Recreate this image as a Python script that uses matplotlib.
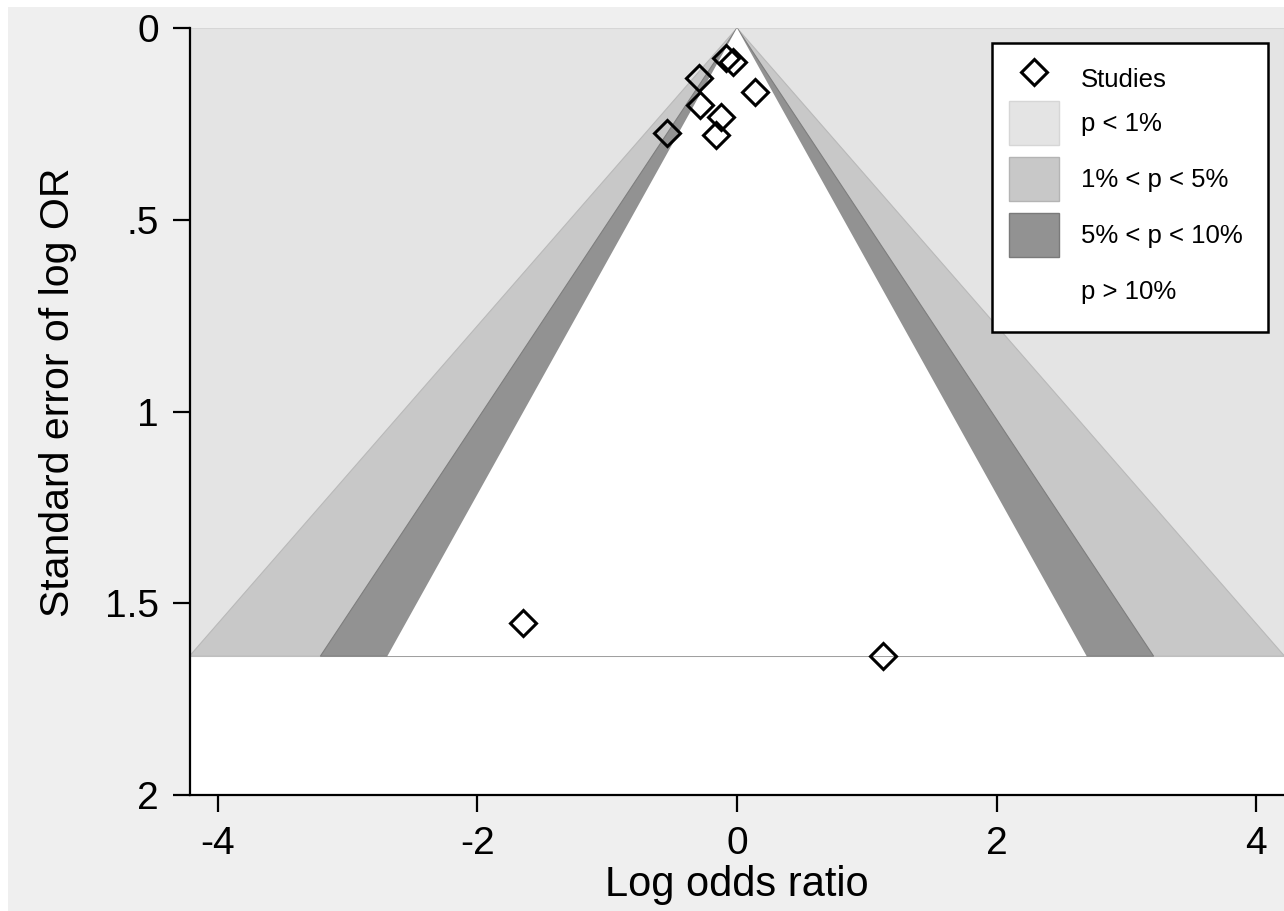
import numpy as np
import matplotlib
matplotlib.use("Agg")
import matplotlib.pyplot as plt
from matplotlib.patches import Patch, Rectangle
from matplotlib.lines import Line2D

plt.rcParams['font.family'] = ['Liberation Sans', 'DejaVu Sans']

# study estimates: log odds ratio and its standard error
log_or = np.array([-0.085, -0.03, -0.29, 0.14, -0.285, -0.12, -0.16, -0.54, -1.65, 1.125])
se = np.array([0.078, 0.089, 0.130, 0.167, 0.200, 0.232, 0.279, 0.274, 1.551, 1.638])

# significance contours (two-sided z for 1%, 5%, 10%)
z_levels = [2.576, 1.960, 1.645]
band_colors = ['#c8c8c8', '#929292', 'white']
band_edges = ['#b9b9b9', '#7e7e7e', '#808080']
outer_color = '#e4e4e4'

legend_labels = ['Studies', 'p < 1%', '1% < p < 5%', '5% < p < 10%', 'p > 10%']

W, H = 1284, 911
fig = plt.figure(figsize=(W / 100, H / 100), dpi=100, facecolor='white')
fig.add_artist(Rectangle((8 / W, -0.05), 1, 1.05 - 7 / H, transform=fig.transFigure,
                         facecolor='#efefef', edgecolor='none', zorder=-10))

ax = fig.add_axes([190 / W, 1 - 795 / H, 1 - 190 / W, (795 - 28) / H])
ax.set_facecolor('white')

se_max = se.max()
x_max = 4.215

# p < 1% region above the largest SE
ax.axhspan(0, se_max, facecolor=outer_color, edgecolor='#d6d6d6', lw=0.8, zorder=1)
for z, fc, ec in zip(z_levels, band_colors, band_edges):
    w = z * se_max
    ax.fill([0, -w, w], [0, se_max, se_max], facecolor=fc,
            edgecolor=ec if fc != 'white' else 'none', lw=0.8, zorder=2)

ax.plot(log_or, se, linestyle='none', marker='D', markersize=13.5,
        markerfacecolor='none', markeredgecolor='black', markeredgewidth=2.2, zorder=5)

ax.set_xlim(-x_max, x_max)
ax.set_ylim(2, 0)
ax.set_xticks([-4, -2, 0, 2, 4])
ax.set_xticklabels(['-4', '-2', '0', '2', '4'])
ax.set_yticks([0, 0.5, 1, 1.5, 2])
ax.set_yticklabels(['0', '.5', '1', '1.5', '2'])
ax.tick_params(axis='both', labelsize=28, length=12.5, width=1.6, pad=10, color='black')

for side in ['top', 'right']:
    ax.spines[side].set_visible(False)
for side in ['left', 'bottom']:
    ax.spines[side].set_linewidth(1.6)
    ax.spines[side].set_zorder(6)

ax.set_xlabel('Log odds ratio', fontsize=30, labelpad=2)
ax.set_ylabel('Standard error of log OR', fontsize=29.5, y=0.525, labelpad=20)

# legend box drawn separately so the padding can be set exactly
ax.add_patch(Rectangle((992 / W, 1 - 332 / H), 276 / W, 289 / H, transform=fig.transFigure,
                       facecolor='white', edgecolor='black', lw=1.8, clip_on=False, zorder=9))

marker_handle = Line2D([], [], linestyle='none', marker='D', markersize=13.5,
                       markerfacecolor='none', markeredgecolor='black', markeredgewidth=2.2)
patch_handles = [
    Patch(facecolor=outer_color, edgecolor='#d6d6d6'),
    Patch(facecolor=band_colors[0], edgecolor='#b4b4b4'),
    Patch(facecolor=band_colors[1], edgecolor='#7a7a7a'),
    Patch(facecolor='white', edgecolor='white'),
]
leg_kw = dict(loc='upper left', bbox_transform=fig.transFigure, borderaxespad=0,
              borderpad=0, fontsize=18.5, handlelength=1.95, handleheight=2.26,
              handletextpad=0.86, labelspacing=0.47, frameon=False)

leg1 = ax.legend([marker_handle], legend_labels[:1],
                 bbox_to_anchor=(1009 / W, 1 - 57 / H), **leg_kw)
leg1.set_zorder(10)
ax.add_artist(leg1)
leg2 = ax.legend(patch_handles, legend_labels[1:],
                 bbox_to_anchor=(1009 / W, 1 - 101 / H), **leg_kw)
leg2.set_zorder(10)

fig.savefig('out.png', dpi=100, facecolor=fig.get_facecolor())
